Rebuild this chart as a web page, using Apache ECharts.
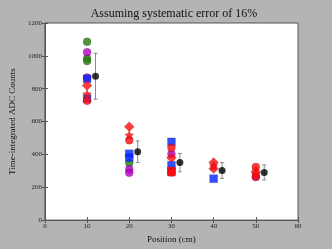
<!DOCTYPE html>
<html><head><meta charset="utf-8">
<script src="https://cdn.jsdelivr.net/npm/echarts@6/dist/echarts.min.js"></script>
<style>html,body{margin:0;padding:0;background:#b4b4b4;}#c{width:332px;height:249px;}</style>
</head><body><div id="c"></div>
<script>
// Data
const greenPts  = [[10,1086],[10,984],[10,968],[20,348]];
const purplePts = [[10,1022],[10,868],[20,310],[20,288],[30,402],[50,262]];
const bluePts   = [[10,860],[10,740],[20,404],[20,380],[30,476],[30,334],[40,252]];
const redCircle = [[10,726],[20,486],[30,440],[30,290],[50,324],[50,266]];
const redDiamond= [[10,820],[20,568],[30,380],[40,350],[40,314],[50,294]];
const redStar   = [[10,768],[20,518],[40,330],[50,282]];
const redSquare = [[30,292],[30,300]];
const meanX   = [12,22,32,42,52];
const meanY   = [876,416,350,302,290];
const errLow  = [736,350,294,254,244];
const errHigh = [1016,482,406,350,336];
const xTicks = [0,10,20,30,40,50,60];
const yTicks = [0,200,400,600,800,1000,1200];

const chart = echarts.init(document.getElementById('c'));
const serif = 'Liberation Serif';
const lab = {fontFamily: serif, fontSize: 7, color: '#222'};
const axLine = {show: true, lineStyle: {color: '#555', width: 1}};
const tick = {show: true, inside: true, length: 3, lineStyle: {color: '#555'}};
const mk = (name, data, symbol, color, size) => ({
  type: 'scatter', name, data, symbol, symbolSize: size,
  itemStyle: {color, borderColor: 'rgba(0,0,0,0.3)', borderWidth: 0.5}
});
chart.setOption({
  animation: false,
  backgroundColor: '#b4b4b4',
  title: {text: 'Assuming systematic error of 16%', left: 169, top: 3, textAlign: 'center',
    textStyle: {fontFamily: serif, fontSize: 12, fontWeight: 'normal', color: '#111'}},
  grid: {left: 40, right: 34, top: 23, bottom: 26, show: true, backgroundColor: '#fff', borderColor: '#555', borderWidth: 1},
  xAxis: [
    {type: 'value', min: 0, max: 60, interval: 10, position: 'bottom',
     name: 'Position (cm)', nameLocation: 'middle', nameGap: 14,
     nameTextStyle: {fontFamily: serif, fontSize: 9, color: '#111'},
     axisLine: axLine, axisTick: tick, splitLine: {show: false},
     axisLabel: Object.assign({margin: 3, formatter: v => xTicks.includes(v) ? String(v) : ''}, lab)},
    {type: 'value', min: 0, max: 60, interval: 10, position: 'top',
     axisLine: axLine, axisTick: tick, splitLine: {show: false}, axisLabel: {show: false}}
  ],
  yAxis: [
    {type: 'value', min: 0, max: 1200, interval: 200, position: 'left',
     name: 'Time-integrated ADC Counts', nameLocation: 'middle', nameGap: 17,
     nameTextStyle: {fontFamily: serif, fontSize: 9, color: '#111'},
     axisLine: axLine, axisTick: tick, splitLine: {show: false},
     axisLabel: Object.assign({margin: 3, formatter: v => yTicks.includes(v) ? String(v) : ''}, lab)},
    {type: 'value', min: 0, max: 1200, interval: 200, position: 'right',
     axisLine: axLine, axisTick: tick, splitLine: {show: false}, axisLabel: {show: false}}
  ],
  series: [
    mk('green', greenPts, 'circle', '#267a12', 8),
    mk('purple', purplePts, 'circle', '#b000c0', 8),
    mk('blue', bluePts, 'rect', '#0022ff', 8),
    mk('redsq', redSquare, 'rect', '#ff0a0a', 8),
    mk('redc', redCircle, 'circle', '#ff0a0a', 8),
    mk('redd', redDiamond, 'diamond', '#ff0a0a', 10),
    mk('reds', redStar, 'path://M0,-10 L2.9,-4 L9.5,-3.1 L4.8,1.5 L5.9,8.1 L0,5 L-5.9,8.1 L-4.8,1.5 L-9.5,-3.1 L-2.9,-4 Z', '#ff0a0a', 9),
    {type: 'custom', name: 'err',
     data: meanX.map((x, i) => [x, errLow[i], errHigh[i]]),
     renderItem: (params, api) => {
       const x = api.value(0);
       const lo = api.coord([x, api.value(1)]);
       const hi = api.coord([x, api.value(2)]);
       const st = {stroke: '#8a8a8a', lineWidth: 1};
       return {type: 'group', children: [
         {type: 'line', shape: {x1: lo[0], y1: lo[1], x2: hi[0], y2: hi[1]}, style: st},
         {type: 'line', shape: {x1: lo[0]-2, y1: lo[1], x2: lo[0]+2, y2: lo[1]}, style: st},
         {type: 'line', shape: {x1: hi[0]-2, y1: hi[1], x2: hi[0]+2, y2: hi[1]}, style: st}
       ]};
     }},
    {type: 'scatter', name: 'mean', data: meanX.map((x, i) => [x, meanY[i]]), symbol: 'circle', symbolSize: 7,
     itemStyle: {color: '#000'}, z: 5}
  ]
});
</script></body></html>
